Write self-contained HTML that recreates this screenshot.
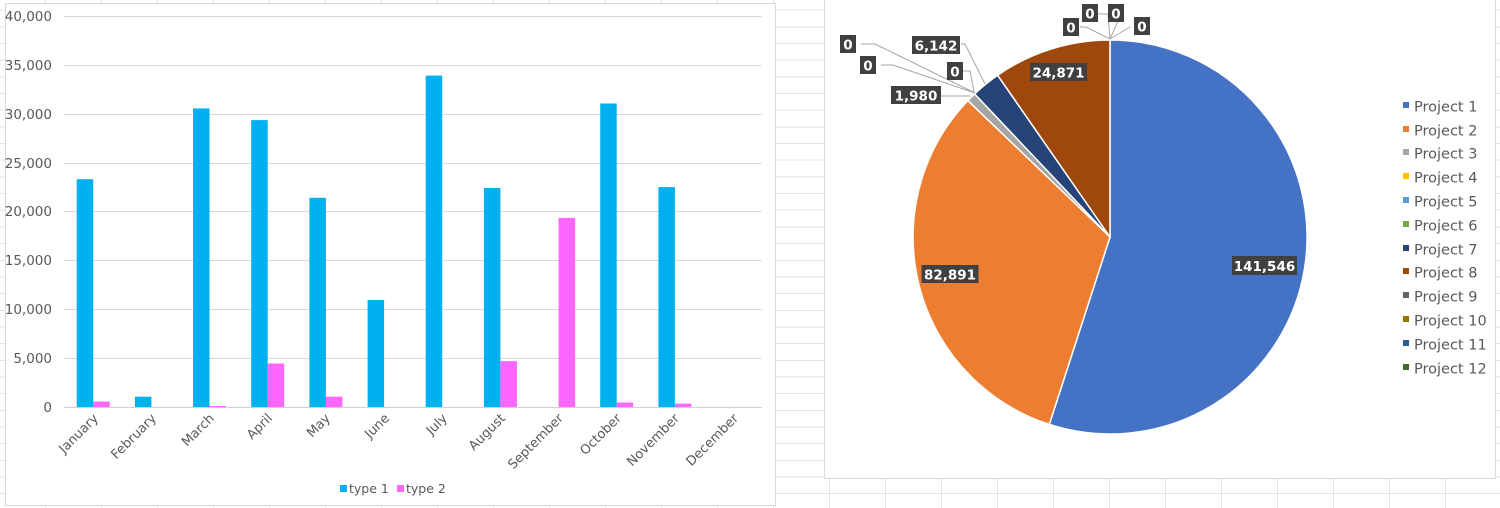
<!DOCTYPE html>
<html><head><meta charset="utf-8"><style>
html,body{margin:0;padding:0;width:1500px;height:508px;overflow:hidden;background:#fff;}
body{background-image:repeating-linear-gradient(to right,transparent 0,transparent 45px,#e3e3e3 45px,#e3e3e3 46px,transparent 46px,transparent 56px),repeating-linear-gradient(to bottom,transparent 0,transparent 9.7px,#e3e3e3 9.7px,#e3e3e3 10.7px,transparent 10.7px,transparent 16.67px);}
svg{position:absolute;left:0;top:0;}
text{font-family:"DejaVu Sans","Liberation Sans",sans-serif;}
</style></head><body>
<svg width="1500" height="508" viewBox="0 0 1500 508">
<rect x="5.5" y="3.5" width="770" height="502" fill="#fff" stroke="#d9d9d9"/>
<g stroke="#d9d9d9" stroke-width="1">
<line x1="64" x2="762" y1="16.5" y2="16.5"/><line x1="64" x2="762" y1="65.5" y2="65.5"/>
<line x1="64" x2="762" y1="114.5" y2="114.5"/><line x1="64" x2="762" y1="163.5" y2="163.5"/>
<line x1="64" x2="762" y1="211.5" y2="211.5"/><line x1="64" x2="762" y1="260.5" y2="260.5"/>
<line x1="64" x2="762" y1="309.5" y2="309.5"/><line x1="64" x2="762" y1="358.5" y2="358.5"/>
</g>
<g font-size="13.5" fill="#595959" text-anchor="end">
<text x="52" y="21">40,000</text><text x="52" y="70">35,000</text><text x="52" y="119">30,000</text>
<text x="52" y="168">25,000</text><text x="52" y="216">20,000</text><text x="52" y="265">15,000</text>
<text x="52" y="314">10,000</text><text x="52" y="363">5,000</text><text x="52" y="412">0</text>
</g>
<g fill="#00B0F0">
<rect x="76.7" y="179.2" width="16.5" height="227.8"/>
<rect x="134.9" y="396.7" width="16.5" height="10.3"/>
<rect x="193.0" y="108.4" width="16.5" height="298.6"/>
<rect x="251.2" y="120.1" width="16.5" height="286.9"/>
<rect x="309.4" y="197.8" width="16.5" height="209.2"/>
<rect x="367.6" y="300" width="16.5" height="107"/>
<rect x="425.7" y="75.6" width="16.5" height="331.4"/>
<rect x="483.9" y="188" width="16.5" height="219"/>
<rect x="600.2" y="103.5" width="16.5" height="303.5"/>
<rect x="658.4" y="187.1" width="16.5" height="219.9"/>
</g>
<g fill="#FF66FF">
<rect x="93.2" y="401.6" width="16.5" height="5.4"/>
<rect x="209.5" y="406" width="16.5" height="1"/>
<rect x="267.7" y="363.5" width="16.5" height="43.5"/>
<rect x="325.9" y="396.7" width="16.5" height="10.3"/>
<rect x="500.4" y="361.1" width="16.5" height="45.9"/>
<rect x="558.6" y="217.9" width="16.5" height="189.1"/>
<rect x="616.7" y="402.6" width="16.5" height="4.4"/>
<rect x="674.9" y="403.6" width="16.5" height="3.4"/>
</g>
<line x1="64" x2="762" y1="407.5" y2="407.5" stroke="#d0d0d0"/>
<g font-size="13" fill="#595959" text-anchor="end">
<text transform="translate(99,419) rotate(-45)">January</text>
<text transform="translate(157,419) rotate(-45)">February</text>
<text transform="translate(215,419) rotate(-45)">March</text>
<text transform="translate(273,419) rotate(-45)">April</text>
<text transform="translate(331,419) rotate(-45)">May</text>
<text transform="translate(390,419) rotate(-45)">June</text>
<text transform="translate(448,419) rotate(-45)">July</text>
<text transform="translate(506,419) rotate(-45)">August</text>
<text transform="translate(564,419) rotate(-45)">September</text>
<text transform="translate(622,419) rotate(-45)">October</text>
<text transform="translate(680,419) rotate(-45)">November</text>
<text transform="translate(739,419) rotate(-45)">December</text>
</g>
<rect x="340" y="485" width="7" height="7" fill="#00B0F0"/>
<text x="349" y="493" font-size="12.5" fill="#595959">type 1</text>
<rect x="397" y="485" width="7" height="7" fill="#FF66FF"/>
<text x="406" y="493" font-size="12.5" fill="#595959">type 2</text>

<rect x="824.5" y="-1" width="671" height="479.5" fill="#fff" stroke="#d9d9d9"/>
<g stroke="#fff" stroke-width="1.5">
<path d="M1110,237 L1110,40 A197,197 0 1,1 1049.3,424.4 Z" fill="#4472C4"/>
<path d="M1110,237 L1049.3,424.4 A197,197 0 0,1 967.9,100.6 Z" fill="#ED7D31"/>
<path d="M1110,237 L967.9,100.6 A197,197 0 0,1 974.6,93.9 Z" fill="#A5A5A5"/>
<path d="M1110,237 L974.6,93.9 A197,197 0 0,1 997.6,75.2 Z" fill="#264478"/>
<path d="M1110,237 L997.6,75.2 A197,197 0 0,1 1110,40 Z" fill="#9E480E"/>
</g>
<g stroke="#a6a6a6" stroke-width="1" fill="none">
<polyline points="861,44 875,44 975,93"/>
<polyline points="881,65 893,65 975,93"/>
<polyline points="911,96 970,96"/>
<polyline points="963,71 970,71 974,92"/>
<polyline points="961,44 965,44 985,84"/>
<polyline points="1080,27 1086,27 1110,39"/>
<polyline points="1097,14 1108,14 1110,39"/>
<polyline points="1121,14 1110,39"/>
<polyline points="1130,27 1110,39"/>
</g>
<g font-size="13.5" font-weight="bold" fill="#fff" text-anchor="middle">
<rect x="1232" y="256" width="65" height="19" fill="#404040"/><text x="1264.5" y="271">141,546</text>
<rect x="921.5" y="265" width="57" height="18" fill="#404040"/><text x="950" y="279.5">82,891</text>
<rect x="1030" y="63" width="57" height="18" fill="#404040"/><text x="1058.5" y="77.5">24,871</text>
<rect x="891" y="86" width="50" height="18" fill="#404040"/><text x="916" y="100.5">1,980</text>
<rect x="912" y="36" width="48" height="18" fill="#404040"/><text x="936" y="50.5">6,142</text>
<rect x="947" y="62" width="16" height="18" fill="#404040"/><text x="955" y="76.5">0</text>
<rect x="840" y="35" width="16" height="18" fill="#404040"/><text x="848" y="49.5">0</text>
<rect x="860" y="56" width="16" height="18" fill="#404040"/><text x="868" y="70.5">0</text>
<rect x="1063" y="18" width="16" height="18" fill="#404040"/><text x="1071" y="32.5">0</text>
<rect x="1082" y="4" width="16" height="18" fill="#404040"/><text x="1090" y="18.5">0</text>
<rect x="1108" y="4" width="16" height="18" fill="#404040"/><text x="1116" y="18.5">0</text>
<rect x="1134" y="17" width="16" height="18" fill="#404040"/><text x="1142" y="31.5">0</text>
</g>
<g font-size="14.5" fill="#595959">
<rect x="1403" y="102" width="6" height="6" fill="#4472C4"/><text x="1414" y="111.5">Project 1</text>
<rect x="1403" y="126" width="6" height="6" fill="#ED7D31"/><text x="1414" y="135.5">Project 2</text>
<rect x="1403" y="149" width="6" height="6" fill="#A5A5A5"/><text x="1414" y="158.5">Project 3</text>
<rect x="1403" y="173" width="6" height="6" fill="#FFC000"/><text x="1414" y="182.5">Project 4</text>
<rect x="1403" y="197" width="6" height="6" fill="#5B9BD5"/><text x="1414" y="206.5">Project 5</text>
<rect x="1403" y="221" width="6" height="6" fill="#70AD47"/><text x="1414" y="230.5">Project 6</text>
<rect x="1403" y="245" width="6" height="6" fill="#264478"/><text x="1414" y="254.5">Project 7</text>
<rect x="1403" y="268" width="6" height="6" fill="#9E480E"/><text x="1414" y="277.5">Project 8</text>
<rect x="1403" y="292" width="6" height="6" fill="#636363"/><text x="1414" y="301.5">Project 9</text>
<rect x="1403" y="316" width="6" height="6" fill="#997300"/><text x="1414" y="325.5">Project 10</text>
<rect x="1403" y="340" width="6" height="6" fill="#255E91"/><text x="1414" y="349.5">Project 11</text>
<rect x="1403" y="364" width="6" height="6" fill="#43682B"/><text x="1414" y="373.5">Project 12</text>
</g>
</svg>
</body></html>
